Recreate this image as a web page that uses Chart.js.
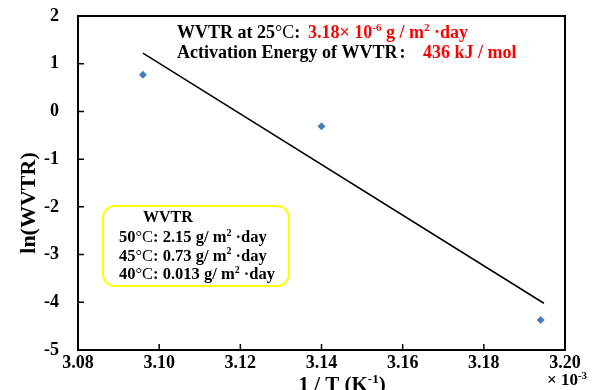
<!DOCTYPE html>
<html><head><meta charset="utf-8">
<script src="https://cdn.jsdelivr.net/npm/chart.js@4"></script>
<style>html,body{margin:0;padding:0;background:#fff}#wrap{width:593px;height:390px}</style>
</head><body><div id="wrap"><canvas id="c" width="593" height="390"></canvas></div>
<script>
const xTicks = [3.08, 3.10, 3.12, 3.14, 3.16, 3.18, 3.20];
const yTicks = [2, 1, 0, -1, -2, -3, -4, -5];
const invT = [3.096, 3.140, 3.194];
const lnWVTR = [0.77, -0.31, -4.37];
const fitX = [3.096, 3.1948];
const fitY = [1.22, -4.02];

const SERIF = '"Liberation Serif", "Times New Roman", "Noto Sans CJK SC", serif';
function font(size, weight){ return (weight||'bold') + ' ' + size + 'px ' + SERIF; }
function drawRich(ctx, x, y, segs, size){
  ctx.textBaseline = 'alphabetic'; ctx.textAlign = 'left';
  for (const s of segs){
    const sz = s.sup ? Math.round(size*0.62) : size;
    ctx.font = font(sz, s.w);
    ctx.fillStyle = s.c || '#000';
    ctx.fillText(s.t, x, y - (s.sup ? size*0.38 : 0));
    x += ctx.measureText(s.t).width;
  }
  return x;
}
function richWidth(ctx, segs, size){
  let w=0; for (const s of segs){ const sz = s.sup ? Math.round(size*0.62) : size; ctx.font = font(sz, s.w); w += ctx.measureText(s.t).width; } return w;
}

const deco = {
  id: 'deco',
  afterDraw(chart){
    const ctx = chart.ctx, a = chart.chartArea, xs = chart.scales.x, ys = chart.scales.y;
    ctx.save();
    ctx.strokeStyle = '#000'; ctx.lineWidth = 2;
    ctx.strokeRect(a.left, a.top, a.right - a.left, a.bottom - a.top);
    ctx.lineWidth = 1.5;
    ctx.beginPath();
    for (const v of yTicks){ const py = ys.getPixelForValue(v); ctx.moveTo(a.left, py); ctx.lineTo(a.left + 6, py); }
    for (const v of xTicks){ const px = xs.getPixelForValue(v); ctx.moveTo(px, a.bottom); ctx.lineTo(px, a.bottom - 6); }
    ctx.stroke();

    // annotation lines
    const red = '#ff0000';
    let x1 = drawRich(ctx, 177, 38, [{t:'WVTR at 25'}, {t:'°C', w:'normal'}], 18);
    drawRich(ctx, x1, 38, [{t:':'}], 18);
    drawRich(ctx, 308, 38, [
      {t:'3.18× 10', c:red}, {t:'-6', c:red, sup:true}, {t:' g / m', c:red}, {t:'2', c:red, sup:true}, {t:' ·day', c:red}
    ], 18);
    let x2 = drawRich(ctx, 177, 58, [{t:'Activation Energy of WVTR'}], 18);
    drawRich(ctx, x2 + 2, 58, [{t:':'}], 18);
    drawRich(ctx, 423, 58, [{t:'436 kJ / mol', c:red}], 18);

    // yellow box
    ctx.strokeStyle = '#ffff00'; ctx.lineWidth = 2;
    ctx.beginPath();
    if (ctx.roundRect) ctx.roundRect(103, 206, 186, 80, 12); else ctx.rect(103,206,186,80);
    ctx.stroke();
    ctx.fillStyle = '#000'; ctx.font = font(16); ctx.textAlign = 'left';
    ctx.fillText('WVTR', 143, 222);
    const rows = [['50','2.15'],['45','0.73'],['40','0.013']];
    rows.forEach((r,i)=>{
      drawRich(ctx, 119, 242 + i*18.7, [{t:r[0]}, {t:'°C', w:'normal'}, {t:': ' + r[1] + ' g/ m'}, {t:'2', sup:true}, {t:' ·day'}], 16.5);
    });

    // axis titles
    const xt = [{t:'1 / T (K'}, {t:'-1', sup:true}, {t:')'}];
    const w = richWidth(ctx, xt, 21);
    drawRich(ctx, 342 - w/2, 391, xt, 21);
    drawRich(ctx, 547, 385, [{t:'× 10'}, {t:'-3', sup:true}], 17);

    ctx.save();
    ctx.translate(35, 203); ctx.rotate(-Math.PI/2);
    ctx.font = font(22); ctx.fillStyle = '#000'; ctx.textAlign = 'center'; ctx.textBaseline = 'alphabetic';
    ctx.fillText('ln(WVTR)', 0, 0);
    ctx.restore();
    ctx.restore();
  }
};

new Chart(document.getElementById('c'), {
  type: 'scatter',
  data: {
    datasets: [
      { data: invT.map((x,i)=>({x, y: lnWVTR[i]})), pointStyle: 'rectRot', pointRadius: 4, pointHoverRadius: 4,
        backgroundColor: '#4a7ebb', borderColor: '#4a7ebb', borderWidth: 0, showLine: false, order: 2 },
      { data: fitX.map((x,i)=>({x, y: fitY[i]})), showLine: true, borderColor: '#000', borderWidth: 1.5,
        pointRadius: 0, fill: false, order: 1 }
    ]
  },
  options: {
    responsive: false, animation: false, devicePixelRatio: 1,
    layout: { padding: { top: 16, right: 28, left: 0, bottom: 0 } },
    plugins: { legend: { display: false }, tooltip: { enabled: false } },
    scales: {
      x: { type: 'linear', min: 3.08, max: 3.20,
        afterBuildTicks: s => { s.ticks = xTicks.map(v=>({value:v})); },
        afterFit: s => { s.height = 40; s.paddingLeft = 0; s.paddingRight = 0; },
        grid: { display: false, drawTicks: false }, border: { display: false },
        ticks: { padding: 3, color: '#000', font: { family: SERIF, size: 18, weight: 'bold' }, callback: v => v.toFixed(2), maxRotation: 0, autoSkip: false } },
      y: { type: 'linear', min: -5, max: 2,
        afterBuildTicks: s => { s.ticks = yTicks.map(v=>({value:v})); },
        afterFit: s => { s.width = 78; s.paddingTop = 0; s.paddingBottom = 0; },
        grid: { display: false, drawTicks: false }, border: { display: false },
        ticks: { padding: 19, color: '#000', font: { family: SERIF, size: 18, weight: 'bold' }, autoSkip: false } }
    }
  },
  plugins: [deco]
});
</script></body></html>
